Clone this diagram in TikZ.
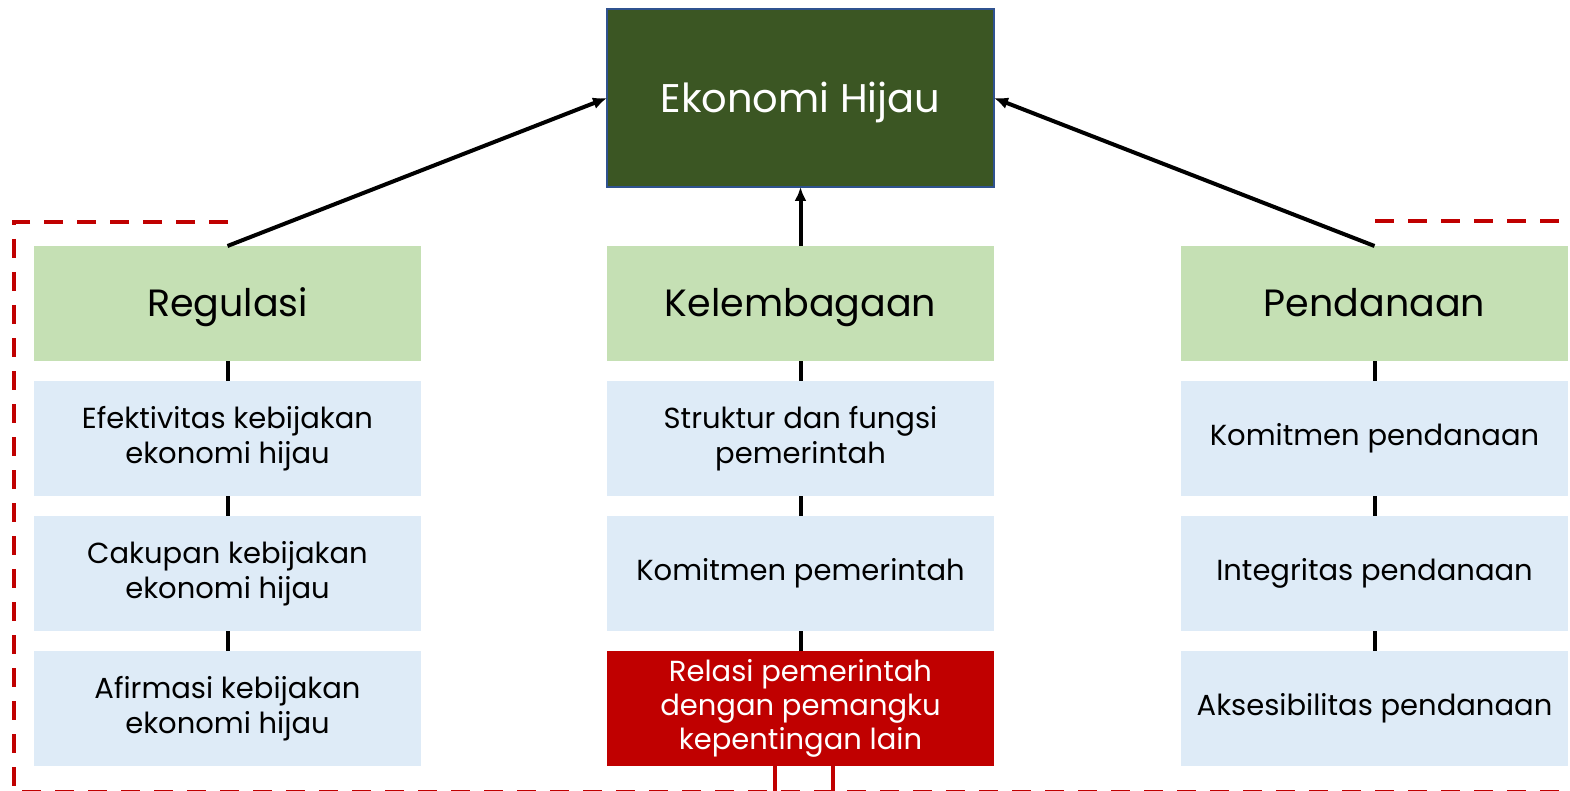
\documentclass[tikz,border=0pt]{standalone}
\usepackage{fontspec}
\setmainfont{Poppins}
\usetikzlibrary{arrows.meta,positioning}

\definecolor{goalgreen}{HTML}{3B5623}
\definecolor{goalline}{HTML}{2F528F}
\definecolor{headgreen}{HTML}{C5E0B4}
\definecolor{itemblue}{HTML}{DEEBF7}
\definecolor{hotred}{HTML}{C00000}

\begin{document}
\begin{tikzpicture}[
      x=1pt, y=-1pt,
      node distance=20pt,
      goal/.style={rectangle,fill=goalgreen,draw=goalline,line width=1.5pt,minimum width=387pt,minimum height=178pt,inner sep=0pt,outer sep=0pt,text=white,text height=34pt,text depth=4pt,font=\fontsize{40}{46}\selectfont},
      head/.style={rectangle,fill=headgreen,minimum width=387pt,minimum height=115pt,inner sep=0pt,outer sep=0pt,text height=30pt,text depth=4pt,font=\fontsize{38}{44}\selectfont},
      item/.style={rectangle,fill=itemblue,minimum width=387pt,minimum height=115pt,inner sep=0pt,outer sep=0pt,align=center,font=\fontsize{29}{35}\selectfont},
      hot/.style={item,fill=hotred,text=white,font=\fontsize{29}{34}\selectfont},
      link/.style={line width=4pt},
      frame/.style={draw=hotred,line width=4pt,dash pattern=on 19pt off 14pt},
      >={Latex[length=14pt,width=12pt]}
    ]
    \useasboundingbox[fill=white] (0,0) rectangle (1570,791);

    % outer frame
    \draw[frame] (228,222) -- (14,222) -- (14,792) -- (1580,792);
    \draw[frame] (1375,221) -- (1580,221);

    \node[goal] (EH) at (800.5,98) {Ekonomi Hijau};

    % three pillars
    \node[head] (REG) at (227.5,303.5) {Regulasi};
    \node[head] (KEL) at (800.5,303.5) {Kelembagaan};
    \node[head] (PEN) at (1374.5,303.5) {Pendanaan};

    \node[item,below=of REG] (REG1) {Efektivitas kebijakan\\ekonomi hijau};
    \node[item,below=of REG1] (REG2) {Cakupan kebijakan\\ekonomi hijau};
    \node[item,below=of REG2] (REG3) {Afirmasi kebijakan\\ekonomi hijau};

    \node[item,below=of KEL] (KEL1) {Struktur dan fungsi\\pemerintah};
    \node[item,below=of KEL1] (KEL2) {Komitmen pemerintah};
    \node[hot,below=of KEL2] (KEL3) {Relasi pemerintah\\dengan pemangku\\kepentingan lain};

    \node[item,below=of PEN] (PEN1) {Komitmen pendanaan};
    \node[item,below=of PEN1] (PEN2) {Integritas pendanaan};
    \node[item,below=of PEN2] (PEN3) {Aksesibilitas pendanaan};

    \foreach \c in {REG,KEL,PEN} {
      \draw[link] (\c) -- (\c1);
      \draw[link] (\c1) -- (\c2);
      \draw[link] (\c2) -- (\c3);
    }

    \draw[link,->] (REG.north) -- (EH.west);
    \draw[link,->] (KEL.north) -- (EH.south);
    \draw[link,->] (PEN.north) -- (EH.east);

    % red ties below
    \coordinate (T1) at (775,800);
    \coordinate (T2) at (833,800);
    \draw[link,draw=hotred] (KEL3.south -| T1) -- (T1);
    \draw[link,draw=hotred] (KEL3.south -| T2) -- (T2);
  \end{tikzpicture}
\end{document}
